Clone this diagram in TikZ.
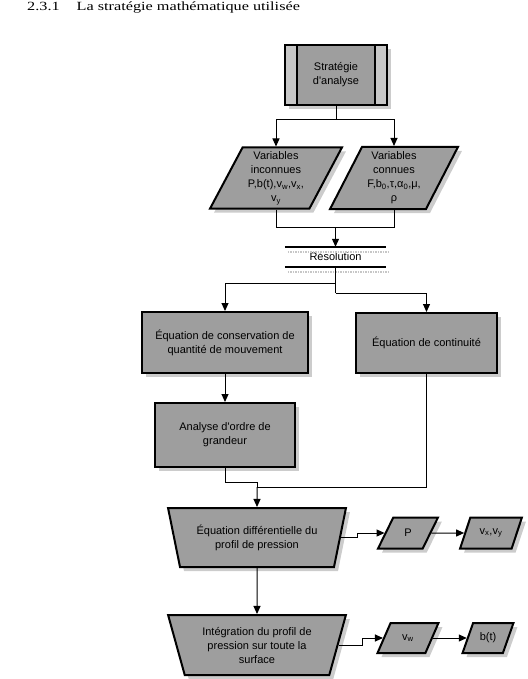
\documentclass[tikz,border=0pt]{standalone}
\usepackage{fontspec}
\setmainfont{Liberation Serif}
\newfontfamily\boxfont{Liberation Sans}
\usetikzlibrary{shapes.geometric,arrows.meta,shadows}

\tikzset{
	flow/.style={draw, line width=2pt, fill=black!38, align=center, inner sep=2pt,
		font=\boxfont\fontsize{11}{14}\selectfont,
		drop shadow={shadow xshift=4pt, shadow yshift=-4pt, fill=black!20, opacity=1}},
	boite/.style={flow, rectangle},
	donnee/.style={flow, trapezium, trapezium left angle=63, trapezium right angle=117, trapezium stretches=true},
	calcul/.style={flow, trapezium, trapezium left angle=108, trapezium right angle=108, trapezium stretches=true},
	lien/.style={black, line width=1pt},
}

\begin{document}
\begin{tikzpicture}[x=1pt, y=-1pt, >={Triangle[length=8pt,width=7pt]}]
\pgfmathsetmacro{\bandew}{12}
\useasboundingbox (0,0) rectangle (527,679);

\node[anchor=base west, font=\fontsize{12.5}{15}\selectfont, inner sep=0pt] (titre) at (27,11) {\scalebox{1.3}[1]{2.3.1\hspace{13pt}La stratégie mathématique utilisée}};

% strategie
\node[boite, minimum width=102pt, minimum height=60pt,
	path picture={
		\fill[black!22] (path picture bounding box.north west) rectangle ([xshift=\bandew pt]path picture bounding box.south west);
		\fill[black!22] (path picture bounding box.north east) rectangle ([xshift=-\bandew pt]path picture bounding box.south east);
		\draw[line width=2pt] ([xshift=\bandew pt]path picture bounding box.north west) -- ([xshift=\bandew pt]path picture bounding box.south west);
		\draw[line width=2pt] ([xshift=-\bandew pt]path picture bounding box.north east) -- ([xshift=-\bandew pt]path picture bounding box.south east);
	}] (strat) at (336,75) {Stratégie\\d'analyse};

% variables
\node[donnee, minimum width=132pt, minimum height=61pt] (varinc) at (276,178) {Variables\\inconnues\\P,b(t),v\textsubscript{w},v\textsubscript{x},\\v\textsubscript{y}};
\node[donnee, minimum width=128pt, minimum height=62pt] (varcon) at (394,178) {Variables\\connues\\F,b\textsubscript{0},τ,α\textsubscript{0},μ,\\ρ};

\coordinate (fourche) at (336,120);
\draw[lien] (strat.south) -- (fourche);
\draw[lien,->] (fourche) -| (varinc.center |- varinc.north);
\draw[lien,->] (fourche) -| (varcon.center |- varcon.north);

% resolution
\node[font=\boxfont\fontsize{11}{14}\selectfont, minimum width=101pt, minimum height=20pt, inner sep=0pt] (resol) at (335.5,257) {Résolution};
\draw[black!22, line width=2pt, dash pattern=on 1.5pt off 1pt] ([xshift=3pt,yshift=-5pt]resol.north west) -- ([xshift=4pt,yshift=-5pt]resol.north east);
\draw[black!22, line width=2pt, dash pattern=on 1.5pt off 1pt] ([xshift=3pt,yshift=-5pt]resol.south west) -- ([xshift=4pt,yshift=-5pt]resol.south east);
\draw[line width=2pt] (resol.north west) -- (resol.north east);
\draw[line width=2pt] (resol.south west) -- (resol.south east);

\coordinate (jonc) at (335.5,227);
\draw[lien] (varinc.center |- varinc.south) |- (jonc);
\draw[lien] (varcon.center |- varcon.south) |- (jonc);
\draw[lien,->] (jonc) -- (resol.north);

% equations
\node[boite, minimum width=166pt, minimum height=61pt] (eqcons) at (225,342.5) {Équation de conservation de\\quantité de mouvement};
\node[boite, minimum width=141pt, minimum height=60pt] (eqcont) at (426.5,343) {Équation de continuité};
\node[boite, minimum width=140pt, minimum height=64pt] (ordre) at (225,435) {Analyse d'ordre de\\grandeur};

\coordinate (gauche) at (335.5,283);
\coordinate (droite) at (335.5,293);
\draw[lien] (resol.south) -- (droite);
\draw[lien,->] (gauche) -| (eqcons.north);
\draw[lien,->] (droite) -| (eqcont.north);
\draw[lien,->] (eqcons.south) -- (ordre.north);

% profil de pression
\node[calcul, minimum width=178pt, minimum height=59pt] (eqdiff) at (257,537.5) {Équation différentielle du\\profil de pression};
\node[calcul, minimum width=178pt, minimum height=60pt] (integ) at (257,645) {Intégration du profil de\\pression sur toute la\\surface};

\coordinate (fusion) at (257,487);
\draw[lien] (ordre.south) -- ++(0,14) -| (fusion);
\draw[lien] (eqcont.south) |- (fusion);
\draw[lien,->] (fusion) -- (eqdiff.north);
\draw[lien,->] (eqdiff.south) -- (integ.north);

% resultats
\node[donnee, minimum width=60pt, minimum height=31pt] (pres) at (408,533) {P};
\node[donnee, minimum width=62pt, minimum height=31pt] (vitxy) at (491,533) {v\textsubscript{x},v\textsubscript{y}};
\node[donnee, minimum width=61pt, minimum height=30pt] (vitw) at (408,638) {v\textsubscript{w}};
\node[donnee, minimum width=51pt, minimum height=30pt] (bt) at (488,638) {b(t)};

\draw[lien,->] (eqdiff.east) -- ++(16,0) |- (pres.west);
\draw[lien,->] (pres.east) -- (vitxy.west);
\draw[lien,->] (integ.east) -- ++(24,0) |- (vitw.west);
\draw[lien,->] (vitw.east) -- (bt.west);

\end{tikzpicture}
\end{document}
